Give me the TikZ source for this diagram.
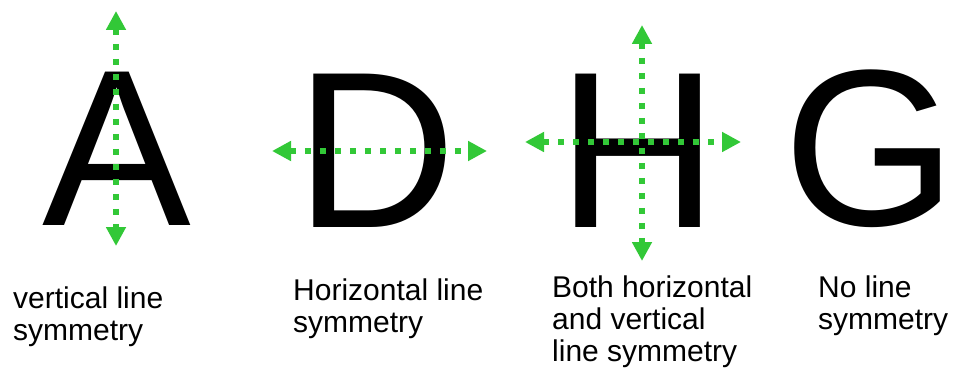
\documentclass[tikz,border=0pt]{standalone}
\usepackage{fontspec}
\setmainfont{Liberation Sans}
\usetikzlibrary{arrows.meta}
\definecolor{symgreen}{RGB}{50,200,55}
\begin{document}
\begin{tikzpicture}[x=1pt,y=-1pt,
  bigletter/.style={inner sep=0pt,anchor=base,font=\fontsize{223}{223}\selectfont},
  caption/.style={inner sep=0pt,anchor=north west,align=left,font=\fontsize{30}{32}\selectfont},
  symarrow/.style={draw=symgreen,line width=6pt,dash pattern=on 6pt off 9pt,
    {Triangle[length=19pt,width=19pt]}-{Triangle[length=19pt,width=19pt]}}]
\useasboundingbox (0,0) rectangle (956,385);
% letters
\node[bigletter] (A) at (117,225) {A};
\node[bigletter] (D) at (376,227) {D};
\node[bigletter] (H) at (638,227) {H};
\node[bigletter] (G) at (870,225) {G};
% arrow ends
\coordinate (Atop) at (116,11);
\coordinate (Abot) at (116,246);
\coordinate (Dleft) at (272,151);
\coordinate (Dright) at (487,151);
\coordinate (Htop) at (642,25);
\coordinate (Hbot) at (642,261);
\coordinate (Hleft) at (525,142);
\coordinate (Hright) at (741,142);
\draw[symarrow] (Atop) -- (Abot);
\draw[symarrow] (Dleft) -- (Dright);
\draw[symarrow] (Hleft) -- (Hright);
\draw[symarrow] (Htop) -- (Hbot);
% captions
\node[caption] (capA) at (13,287) {vertical line\\symmetry};
\node[caption] (capD) at (293,279) {Horizontal line\\symmetry};
\node[caption] (capH) at (552,276) {Both horizontal\\and vertical\\line symmetry};
\node[caption] (capG) at (818,276) {No line\\symmetry};
\end{tikzpicture}
\end{document}
